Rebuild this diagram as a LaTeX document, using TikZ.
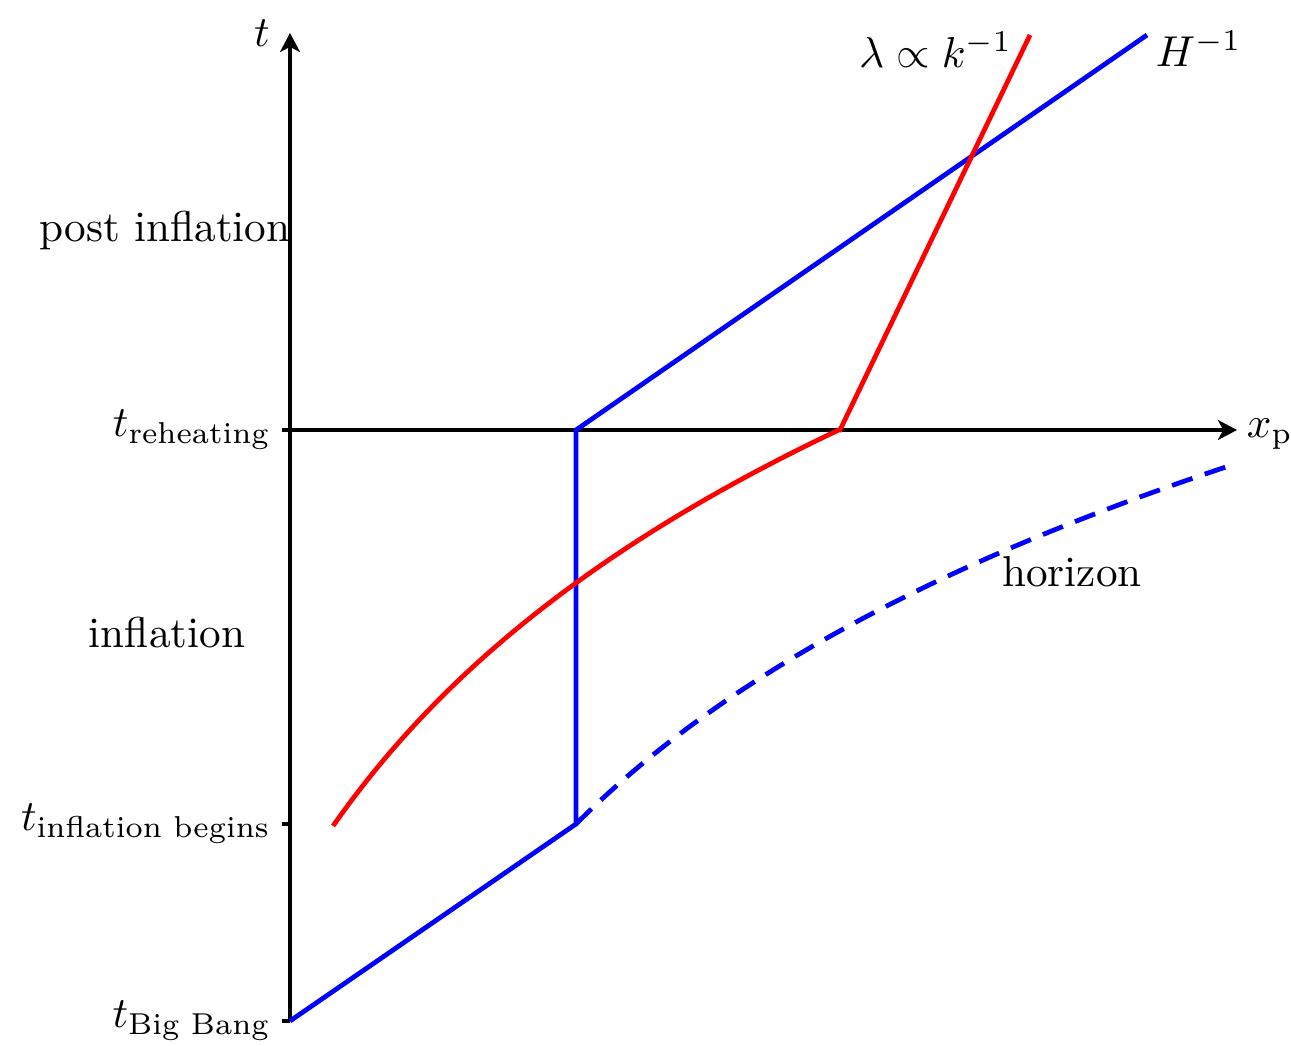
\documentclass[tikz,border=0pt]{standalone}
\usepackage{amsmath}
\usetikzlibrary{arrows.meta}
\begin{document}
\begin{tikzpicture}[x=0.2315pt,y=-0.2315pt,
  axis/.style={line width=0.95pt,black},
  ax/.style={axis,-{Stealth[length=4.4pt,width=4.6pt,inset=1.2pt]}},
  tick/.style={axis},
  bl/.style={line width=1.1pt,blue},
  rd/.style={line width=1.1pt,red},
  ticklbl/.style={anchor=east,inner sep=2.4pt}]
\useasboundingbox (0,0) rectangle (1291,1046);
% coordinates
\coordinate (O) at (290,1021);
\coordinate (Ttop) at (290,33);
\coordinate (Xend) at (1237,430);
\coordinate (R) at (290,430);
\coordinate (I) at (290,824);
\coordinate (tR) at (282,430);
\coordinate (tI) at (282,824);
\coordinate (tB) at (282,1021);
\coordinate (B1) at (576,824);
\coordinate (B2) at (576,430);
\coordinate (B3) at (1147,35);
\coordinate (R1) at (840,430);
\coordinate (R2) at (1030,35);
% axes
\draw[ax] (O) -- (Ttop);
\draw[ax] (R) -- (Xend);
\draw[tick] (tR) -- (R);
\draw[tick] (tI) -- (I);
\draw[tick] (tB) -- (O);
% tick labels
\node[ticklbl] (lR) at (tR) {$t_{\text{reheating}}$};
\node[ticklbl] (lI) at (tI) {$t_{\text{inflation begins}}$};
\node[ticklbl] (lB) at (tB) {$t_{\text{Big Bang}}$};
\node (lt) at (262,33) {$t$};
\node[anchor=west,inner sep=0pt] (lx) at (1246,434) {$x_{\mathrm{p}}$};
% region labels
\node (post) at (165,230) {post inflation};
\node (infl) at (167,633) {inflation};
\node (hor) at (1072,572) {horizon};
\node[anchor=east,inner sep=0pt] (lam) at (1013,50) {$\lambda\propto k^{-1}$};
\node[anchor=west,inner sep=0pt] (Hinv) at (1155,49) {$H^{-1}$};
% blue curves
\draw[bl] (O) -- (B1) -- (B2) -- (B3);
\draw[bl,dash pattern=on 5pt off 3pt] plot[domain=576:1232,samples=60,variable=\x] ({\x},{824-325*ln(1+(\x-576)/325)});
% red curve
\draw[rd,line join=miter] plot[domain=333:839,samples=60,variable=\x] ({\x},{826-358*ln(1+(\x-333)/250)}) -- (R1) -- (R2);
\end{tikzpicture}
\end{document}
